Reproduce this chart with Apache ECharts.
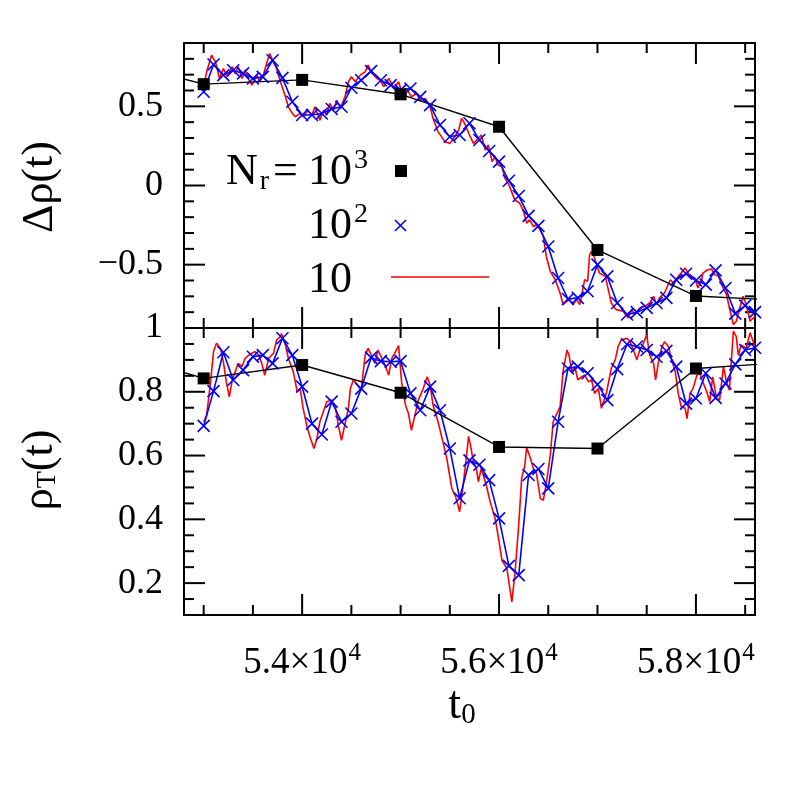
<!DOCTYPE html>
<html>
<head>
<meta charset="utf-8">
<script src="https://cdn.jsdelivr.net/npm/echarts@6/dist/echarts.min.js"></script>
<style>
html, body { margin: 0; padding: 0; background: #fff; }
#chart { width: 797px; height: 797px; }
</style>
</head>
<body>
<div id="chart"></div>
<script>
// N_r = 10^3 (black squares); 52000 and 59000 lie outside the frame, they only carry the line to the edges
const coarseT = [52000, 53000, 54000, 55000, 56000, 57000, 58000, 59000]
const coarseDrho = [0.80, 0.64, 0.667, 0.576, 0.371, -0.407, -0.698, -0.73]
const coarseRhoT = [0.935, 0.842, 0.884, 0.797, 0.627, 0.622, 0.873, 0.894]

// N_r = 10^2 (blue crosses)
const midT = [53000, 53100, 53200, 53300, 53400, 53500, 53600, 53700, 53800, 53900,
  54000, 54100, 54200, 54300, 54400, 54500, 54600, 54700, 54800, 54900,
  55000, 55100, 55200, 55300, 55400, 55500, 55600, 55700, 55800, 55900,
  56000, 56100, 56200, 56300, 56400, 56500, 56600, 56700, 56800, 56900,
  57000, 57100, 57200, 57300, 57400, 57500, 57600, 57700, 57800, 57900,
  58000, 58100, 58200, 58300, 58400, 58500, 58600]
const midDrho = [0.592, 0.764, 0.697, 0.728, 0.708, 0.676, 0.686, 0.791, 0.68, 0.529,
  0.445, 0.445, 0.455, 0.483, 0.497, 0.617, 0.665, 0.722, 0.665, 0.634,
  0.602, 0.613, 0.56, 0.508, 0.382, 0.308, 0.319, 0.393, 0.287, 0.218,
  0.151, 0.03, -0.066, -0.192, -0.255, -0.385, -0.584, -0.717, -0.71, -0.668,
  -0.5, -0.574, -0.742, -0.815, -0.8, -0.773, -0.742, -0.71, -0.595, -0.557,
  -0.6, -0.626, -0.536, -0.647, -0.809, -0.759, -0.8]
const midRhoT = [0.693, 0.802, 0.924, 0.837, 0.868, 0.91, 0.915, 0.889, 0.968, 0.915,
  0.816, 0.70, 0.666, 0.769, 0.706, 0.732, 0.81, 0.907, 0.896, 0.894,
  0.896, 0.795, 0.742, 0.816, 0.742, 0.622, 0.466, 0.585, 0.571, 0.523,
  0.403, 0.254, 0.225, 0.539, 0.558, 0.497, 0.706, 0.873, 0.879, 0.858,
  0.823, 0.774, 0.871, 0.949, 0.942, 0.931, 0.91, 0.928, 0.879, 0.763,
  0.779, 0.858, 0.781, 0.826, 0.886, 0.931, 0.938]

// N_r = 10 (red line), upper panel
const fineTa = [53000, 53030, 53080, 53120, 53160, 53200, 53240, 53290, 53320, 53350,
  53390, 53420, 53460, 53490, 53540, 53570, 53610, 53630, 53670, 53700,
  53740, 53780, 53830, 53860, 53900, 53930, 53980, 54010, 54060, 54100,
  54130, 54180, 54220, 54250, 54280, 54320, 54350, 54390, 54440, 54470,
  54500, 54540, 54590, 54640, 54670, 54710, 54760, 54790, 54830, 54880,
  54930, 54980, 55010, 55060, 55110, 55160, 55200, 55250, 55300, 55330,
  55380, 55450, 55500, 55550, 55590, 55620, 55650, 55700, 55740, 55790,
  55820, 55860, 55890, 55930, 55960, 55990, 56030, 56060, 56100, 56160,
  56210, 56250, 56280, 56310, 56350, 56380, 56420, 56450, 56480, 56520,
  56570, 56620, 56650, 56690, 56720, 56750, 56790, 56820, 56870, 56900,
  56920, 56940, 56970, 57020, 57080, 57110, 57140, 57190, 57260, 57310,
  57350, 57380, 57430, 57480, 57530, 57570, 57600, 57630, 57680, 57740,
  57770, 57820, 57850, 57890, 57940, 57990, 58020, 58060, 58070, 58120,
  58160, 58190, 58230, 58260, 58310, 58340, 58380, 58410, 58450, 58480,
  58510, 58550, 58600]
const fineDrho = [0.624, 0.718, 0.823, 0.781, 0.676, 0.739, 0.687, 0.75, 0.707, 0.75,
  0.676, 0.729, 0.666, 0.634, 0.697, 0.655, 0.707, 0.75, 0.834, 0.792,
  0.739, 0.655, 0.56, 0.497, 0.456, 0.434, 0.456, 0.434, 0.476, 0.445,
  0.497, 0.413, 0.476, 0.445, 0.518, 0.476, 0.539, 0.487, 0.571, 0.655,
  0.687, 0.655, 0.697, 0.718, 0.76, 0.707, 0.676, 0.666, 0.624, 0.676,
  0.613, 0.655, 0.592, 0.613, 0.56, 0.581, 0.539, 0.55, 0.497, 0.424,
  0.34, 0.277, 0.266, 0.308, 0.35, 0.424, 0.392, 0.319, 0.266, 0.298,
  0.319, 0.224, 0.256, 0.151, 0.182, 0.13, 0.119, 0.046, 0.004, -0.091,
  -0.112, -0.164, -0.238, -0.217, -0.259, -0.248, -0.28, -0.322, -0.448, -0.542,
  -0.595, -0.679, -0.752, -0.731, -0.721, -0.752, -0.721, -0.752, -0.595, -0.605,
  -0.437, -0.416, -0.458, -0.553, -0.574, -0.658, -0.742, -0.784, -0.794, -0.836,
  -0.784, -0.815, -0.773, -0.763, -0.742, -0.70, -0.752, -0.71, -0.679, -0.595,
  -0.616, -0.574, -0.553, -0.521, -0.574, -0.584, -0.647, -0.595, -0.553, -0.532,
  -0.528, -0.563, -0.574, -0.626, -0.689, -0.773, -0.878, -0.857, -0.763, -0.70,
  -0.752, -0.857, -0.826]

// N_r = 10 (red line), lower panel
const fineTb = [53000, 53030, 53070, 53100, 53130, 53170, 53200, 53230, 53260, 53290,
  53320, 53350, 53390, 53420, 53460, 53490, 53520, 53560, 53590, 53620,
  53660, 53710, 53740, 53780, 53790, 53830, 53860, 53910, 53950, 53980,
  54010, 54050, 54080, 54120, 54150, 54180, 54220, 54250, 54300, 54340,
  54370, 54400, 54440, 54470, 54490, 54520, 54560, 54600, 54640, 54670,
  54710, 54740, 54770, 54810, 54840, 54880, 54910, 54940, 54980, 55010,
  55050, 55080, 55110, 55150, 55180, 55230, 55270, 55300, 55330, 55380,
  55430, 55470, 55520, 55560, 55600, 55640, 55670, 55690, 55710, 55740,
  55770, 55790, 55820, 55840, 55870, 55910, 55960, 55990, 56030, 56080,
  56110, 56130, 56160, 56200, 56230, 56260, 56280, 56310, 56350, 56380,
  56420, 56450, 56480, 56520, 56550, 56580, 56620, 56650, 56690, 56710,
  56740, 56770, 56800, 56840, 56870, 56910, 56940, 56970, 57010, 57040,
  57060, 57090, 57140, 57180, 57210, 57240, 57300, 57330, 57360, 57400,
  57430, 57460, 57500, 57530, 57570, 57590, 57620, 57650, 57680, 57720,
  57750, 57790, 57820, 57850, 57890, 57910, 57940, 57970, 58010, 58040,
  58070, 58110, 58140, 58170, 58210, 58240, 58280, 58310, 58340, 58380,
  58410, 58430, 58460, 58510, 58550, 58600]
const fineRhoT = [0.706, 0.727, 0.831, 0.926, 0.952, 0.936, 0.894, 0.831, 0.784, 0.837,
  0.863, 0.889, 0.879, 0.905, 0.915, 0.921, 0.926, 0.915, 0.889, 0.852,
  0.905, 0.921, 0.962, 0.973, 0.983, 0.947, 0.905, 0.863, 0.80, 0.81,
  0.748, 0.69, 0.658, 0.622, 0.653, 0.706, 0.742, 0.769, 0.774, 0.748,
  0.69, 0.648, 0.706, 0.748, 0.81, 0.837, 0.821, 0.805, 0.915, 0.936,
  0.91, 0.889, 0.931, 0.905, 0.884, 0.852, 0.905, 0.921, 0.945, 0.831,
  0.758, 0.732, 0.679, 0.732, 0.774, 0.81, 0.847, 0.821, 0.758, 0.706,
  0.643, 0.59, 0.497, 0.47, 0.424, 0.518, 0.60, 0.66, 0.632, 0.58,
  0.559, 0.518, 0.56, 0.54, 0.507, 0.455, 0.403, 0.35, 0.271, 0.246,
  0.183, 0.141, 0.224, 0.382, 0.53, 0.565, 0.624, 0.60, 0.559, 0.544,
  0.465, 0.46, 0.513, 0.60, 0.706, 0.727, 0.753, 0.863, 0.931, 0.915,
  0.863, 0.879, 0.837, 0.847, 0.852, 0.831, 0.837, 0.795, 0.81, 0.748,
  0.742, 0.795, 0.873, 0.90, 0.942, 0.962, 0.968, 0.957, 0.936, 0.90,
  0.931, 0.947, 0.978, 0.915, 0.889, 0.837, 0.894, 0.936, 0.957, 0.942,
  0.905, 0.863, 0.795, 0.753, 0.748, 0.716, 0.795, 0.81, 0.852, 0.858,
  0.831, 0.80, 0.769, 0.847, 0.779, 0.774, 0.879, 0.831, 0.805, 0.99,
  0.973, 0.915, 0.947, 0.936, 0.985, 0.942]

// axes: ranges, tick positions, major ticks
const tRange = [52800, 58600]
const tTicks = [53000, 53500, 54000, 54500, 55000, 55500, 56000, 56500, 57000, 57500, 58000, 58500]
const tMajor = [54000, 56000, 58000]
const drhoRange = [-0.9, 0.9]
const drhoTicks = [-0.8, -0.7, -0.6, -0.5, -0.4, -0.3, -0.2, -0.1, 0, 0.1, 0.2, 0.3, 0.4, 0.5, 0.6, 0.7, 0.8]
const drhoMajor = [-0.5, 0, 0.5]
const rhoRange = [0.1, 1]
const rhoTicks = [0.15, 0.2, 0.25, 0.3, 0.35, 0.4, 0.45, 0.5, 0.55, 0.6, 0.65, 0.7, 0.75, 0.8, 0.85, 0.9, 0.95]
const rhoMajor = [0.2, 0.4, 0.6, 0.8]

const FONT = '"Liberation Serif", "DejaVu Serif", serif'
const zip = (xs, ys) => xs.map((x, i) => [x, ys[i]])
const MINOR_LEN = 10, MAJOR_LEN = 21

function axis(grid, pos, range, step, label) {
  return {
    type: 'value',
    gridIndex: grid,
    position: pos,
    min: range[0],
    max: range[1],
    minInterval: step,
    maxInterval: step,
    axisLine: { show: true, onZero: false, lineStyle: { color: '#000', width: 2 } },
    axisTick: { show: false },
    axisLabel: label || { show: false },
    splitLine: { show: false }
  }
}

const xLabel = {
  show: true,
  showMinLabel: false,
  showMaxLabel: false,
  margin: 26,
  formatter: v => `{m|${(v / 10000).toFixed(1)}×10}{s|4}`,
  rich: {
    m: { fontFamily: FONT, fontSize: 37, color: '#000' },
    s: { fontFamily: FONT, fontSize: 25, color: '#000', padding: [0, 0, 19, 1] }
  }
}
const drhoLabel = {
  show: true,
  showMinLabel: false,
  showMaxLabel: false,
  margin: 21,
  fontFamily: FONT,
  fontSize: 36,
  color: '#000',
  formatter: v => (v < 0 ? '\u2212' : '') + Math.abs(v)
}
const rhoLabel = {
  show: true,
  showMinLabel: false,
  showMaxLabel: true,
  margin: 21,
  fontFamily: FONT,
  fontSize: 36,
  color: '#000',
  formatter: v => String(v)
}

const crossSymbol = 'path://M0 0L10 10M10 0L0 10'

function fineSeries(xi, yi, data) {
  return {
    type: 'line', xAxisIndex: xi, yAxisIndex: yi, data,
    showSymbol: false, symbol: 'none', silent: true,
    lineStyle: { color: '#ff0000', width: 1.6 }
  }
}
function midSeries(xi, yi, data) {
  return {
    type: 'line', xAxisIndex: xi, yAxisIndex: yi, data,
    symbol: crossSymbol, symbolSize: 12, silent: true,
    lineStyle: { color: '#0000ff', width: 1.6 },
    itemStyle: { color: '#0000ff', borderColor: '#0000ff', borderWidth: 1.6 }
  }
}
function coarseSeries(xi, yi, data) {
  return {
    type: 'line', xAxisIndex: xi, yAxisIndex: yi, data,
    symbol: 'rect', symbolSize: 12, silent: true,
    lineStyle: { color: '#000', width: 1.4 },
    itemStyle: { color: '#000' }
  }
}

const decor = [
  // axis titles
  {
    type: 'text', x: 40, y: 187, rotation: Math.PI / 2,
    style: { text: 'Δρ(t)', font: `44px ${FONT}`, fill: '#000', align: 'center', verticalAlign: 'middle' }
  },
  {
    type: 'text', x: 40, y: 470, rotation: Math.PI / 2,
    style: {
      text: '{a|ρ}{b|T}{a|(t)}', align: 'center', verticalAlign: 'middle',
      rich: {
        a: { fontFamily: FONT, fontSize: 44, fill: '#000' },
        b: { fontFamily: FONT, fontSize: 28, fill: '#000', padding: [16, 0, 0, 0] }
      }
    }
  },
  {
    type: 'text', x: 462, y: 706,
    style: {
      text: '{a|t}{b|0}', align: 'center', verticalAlign: 'middle',
      rich: {
        a: { fontFamily: FONT, fontSize: 46, fill: '#000' },
        b: { fontFamily: FONT, fontSize: 29, fill: '#000', padding: [18, 0, 0, 0] }
      }
    }
  },
  // key
  {
    type: 'text', x: 226, y: 172,
    style: {
      text: '{a|N}{b|r}', align: 'left', verticalAlign: 'middle',
      rich: {
        a: { fontFamily: FONT, fontSize: 44, fill: '#000' },
        b: { fontFamily: FONT, fontSize: 28, fill: '#000', padding: [20, 0, 0, 2] }
      }
    }
  },
  {
    type: 'text', x: 273, y: 172,
    style: { text: '=', font: `44px ${FONT}`, fill: '#000', align: 'left', verticalAlign: 'middle' }
  },
  {
    type: 'text', x: 308, y: 172,
    style: {
      text: '{a|10}{b|3}', align: 'left', verticalAlign: 'middle',
      rich: {
        a: { fontFamily: FONT, fontSize: 44, fill: '#000' },
        b: { fontFamily: FONT, fontSize: 28, fill: '#000', padding: [0, 0, 22, 2] }
      }
    }
  },
  { type: 'rect', shape: { x: 395, y: 165, width: 12, height: 12 }, style: { fill: '#000' } },
  {
    type: 'text', x: 308, y: 226,
    style: {
      text: '{a|10}{b|2}', align: 'left', verticalAlign: 'middle',
      rich: {
        a: { fontFamily: FONT, fontSize: 44, fill: '#000' },
        b: { fontFamily: FONT, fontSize: 28, fill: '#000', padding: [0, 0, 22, 2] }
      }
    }
  },
  { type: 'line', shape: { x1: 395, y1: 220, x2: 406, y2: 231 }, style: { stroke: '#0000ff', lineWidth: 1.6 } },
  { type: 'line', shape: { x1: 406, y1: 220, x2: 395, y2: 231 }, style: { stroke: '#0000ff', lineWidth: 1.6 } },
  {
    type: 'text', x: 308, y: 280,
    style: { text: '10', font: `44px ${FONT}`, fill: '#000', align: 'left', verticalAlign: 'middle' }
  },
  {
    type: 'line', shape: { x1: 391, y1: 277, x2: 489, y2: 277 },
    style: { stroke: '#ff0000', lineWidth: 1.6 }
  }
]

const chart = echarts.init(document.getElementById('chart'))
chart.setOption({
  animation: false,
  backgroundColor: '#fff',
  grid: [
    { left: 184, top: 43, width: 571, height: 285 },
    { left: 184, top: 328, width: 571, height: 287 }
  ],
  xAxis: [
    axis(0, 'bottom', tRange, 2000),
    axis(0, 'top', tRange, 2000),
    axis(1, 'bottom', tRange, 2000, xLabel),
    axis(1, 'top', tRange, 2000)
  ],
  yAxis: [
    axis(0, 'left', drhoRange, 0.5, drhoLabel),
    axis(0, 'right', drhoRange, 0.5),
    axis(1, 'left', rhoRange, 0.2, rhoLabel),
    axis(1, 'right', rhoRange, 0.2)
  ],
  series: [
    fineSeries(0, 0, zip(fineTa, fineDrho)),
    midSeries(0, 0, zip(midT, midDrho)),
    coarseSeries(0, 0, zip(coarseT, coarseDrho)),
    fineSeries(2, 2, zip(fineTb, fineRhoT)),
    midSeries(2, 2, zip(midT, midRhoT)),
    coarseSeries(2, 2, zip(coarseT, coarseRhoT))
  ],
  graphic: decor
})

// tick marks on all four sides, placed through the grids' own scales
const tickStyle = { stroke: '#000', lineWidth: 2 }
function panelTicks(gridIndex, yTicks, yMajor, yRange) {
  const els = []
  const px = v => chart.convertToPixel({ gridIndex }, v)
  tTicks.forEach(t => {
    const len = tMajor.includes(t) ? MAJOR_LEN : MINOR_LEN
    const a = px([t, yRange[0]]), b = px([t, yRange[1]])
    els.push({ type: 'line', silent: true, shape: { x1: a[0], y1: a[1], x2: a[0], y2: a[1] - len }, style: tickStyle })
    els.push({ type: 'line', silent: true, shape: { x1: b[0], y1: b[1], x2: b[0], y2: b[1] + len }, style: tickStyle })
  })
  yTicks.forEach(v => {
    const len = yMajor.includes(v) ? MAJOR_LEN : MINOR_LEN
    const a = px([tRange[0], v]), b = px([tRange[1], v])
    els.push({ type: 'line', silent: true, shape: { x1: a[0], y1: a[1], x2: a[0] + len, y2: a[1] }, style: tickStyle })
    els.push({ type: 'line', silent: true, shape: { x1: b[0], y1: b[1], x2: b[0] - len, y2: b[1] }, style: tickStyle })
  })
  return els
}
chart.setOption({
  graphic: decor.concat(panelTicks(0, drhoTicks, drhoMajor, drhoRange), panelTicks(1, rhoTicks, rhoMajor, rhoRange))
})
</script>
</body>
</html>
